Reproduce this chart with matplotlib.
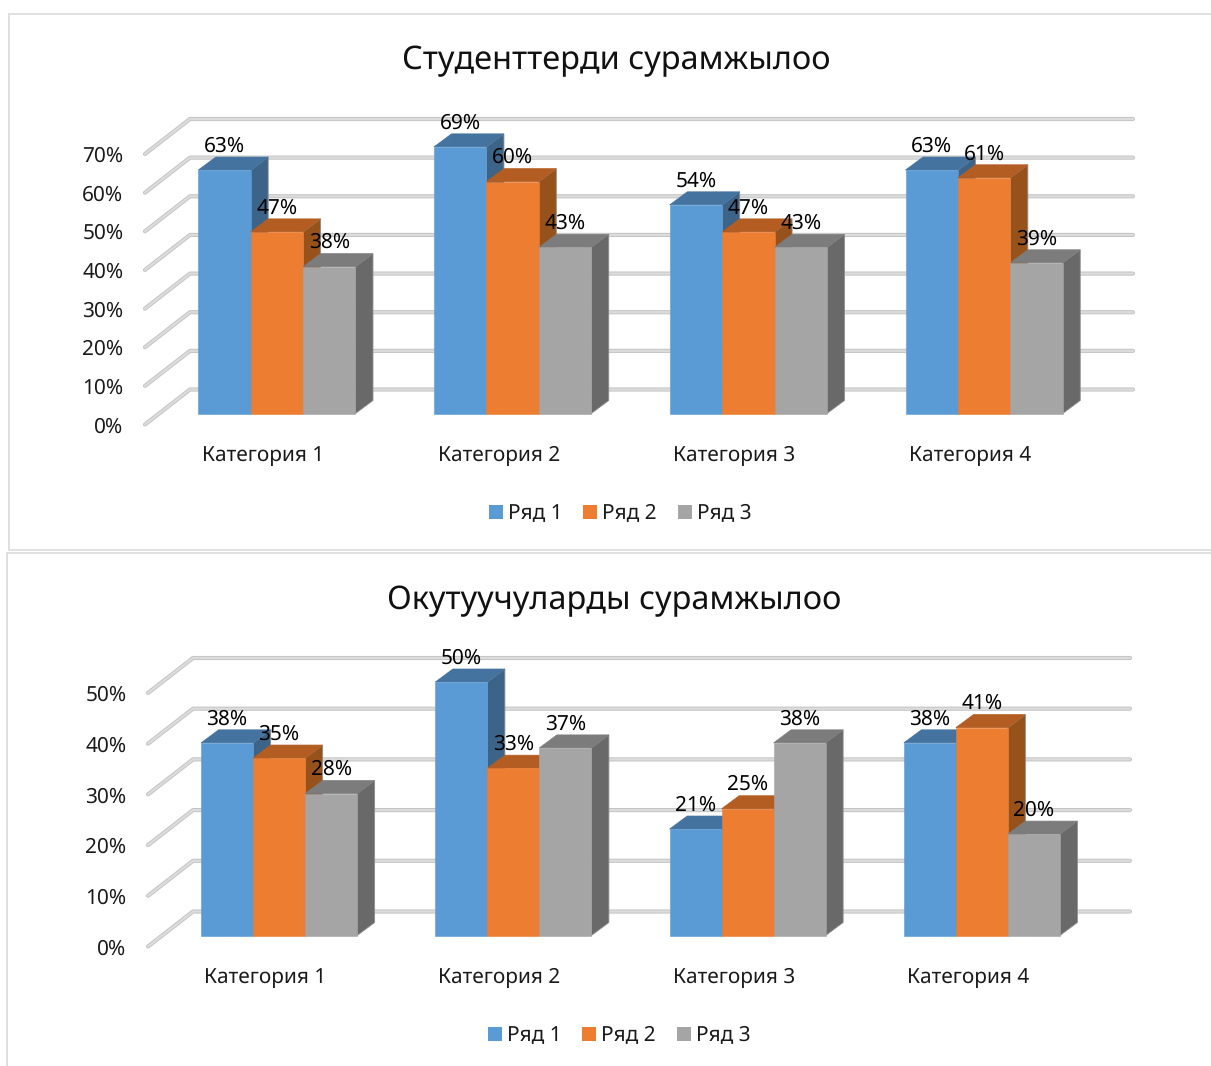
import matplotlib
matplotlib.use("Agg")
import matplotlib.pyplot as plt
from matplotlib.lines import Line2D
from matplotlib.patches import Patch, Polygon

plt.rcParams['font.family'] = ['Noto Sans', 'DejaVu Sans']
plt.rcParams['text.hinting'] = 'no_hinting'

W, H = 1211, 1066

categories = ['Категория 1', 'Категория 2', 'Категория 3', 'Категория 4']
series_names = ['Ряд 1', 'Ряд 2', 'Ряд 3']

title_students = 'Студенттерди сурамжылоо'
students_row1 = [63, 69, 54, 63]
students_row2 = [47, 60, 47, 61]
students_row3 = [38, 43, 43, 39]
students_ticks = [0, 10, 20, 30, 40, 50, 60, 70]

title_teachers = 'Окутуучуларды сурамжылоо'
teachers_row1 = [38, 50, 21, 38]
teachers_row2 = [35, 33, 25, 41]
teachers_row3 = [28, 37, 38, 20]
teachers_ticks = [0, 10, 20, 30, 40, 50]

FRONT = ['#5B9BD5', '#ED7D31', '#A5A5A5']
TOP = ['#44739F', '#B35D22', '#7C7C7C']
SIDE = ['#3B6488', '#97521C', '#696969']

# oblique projection, pixels
WALL_X, WALL_Y = 45, 35
BAR_F_X, BAR_F_Y = 14, 11.0
BAR_B_X, BAR_B_Y = 31.5, 24.0
FS = 15

fig = plt.figure(figsize=(W / 100, H / 100), dpi=100)
fig.patch.set_facecolor('white')


def fline(xs, ys):
    fig.add_artist(Line2D([x / W for x in xs], [1 - y / H for y in ys],
                          color='#E0E0E0', lw=1.4, transform=fig.transFigure))


fline([9, 9, W], [14, 550, 550])
fline([9, W], [14, 14])
fline([7, 7], [H, 553])
fline([7, W], [553, 553])


def panel(left, right, top, bottom, title, title_xy, rows, ticks, legend_xy, bar_px):
    ax = fig.add_axes([left / W, 1 - bottom / H, (right - left) / W, (bottom - top) / H])
    ax.set_xlim(-0.5, len(categories) - 0.5)
    ax.set_ylim(ticks[0], ticks[-1])
    ax.patch.set_alpha(0)
    for s in ax.spines.values():
        s.set_visible(False)
    px_x = (right - left) / len(categories)
    px_y = (bottom - top) / (ticks[-1] - ticks[0])
    ux = lambda p: p / px_x
    uy = lambda p: p / px_y

    # walls and gridlines
    for t in ticks:
        ax.plot([-0.5, -0.5 + ux(WALL_X), len(categories) - 0.5 + ux(WALL_X)],
                [t, t + uy(WALL_Y), t + uy(WALL_Y)],
                color='#C4C4C4', lw=3.0, clip_on=False, zorder=1, solid_capstyle='round')
        ax.plot([-0.5, -0.5 + ux(WALL_X), len(categories) - 0.5 + ux(WALL_X)],
                [t, t + uy(WALL_Y), t + uy(WALL_Y)],
                color='#DCDCDC', lw=1.6, clip_on=False, zorder=1.1, solid_capstyle='round')

    w = ux(bar_px)
    fx, fy = ux(BAR_F_X), uy(BAR_F_Y)
    bx, by = ux(BAR_B_X), uy(BAR_B_Y)
    z = 2
    for c in range(len(categories)):
        for s, vals in enumerate(rows):
            v = vals[c]
            x0 = c + fx + (s - 1.5) * w
            x1 = x0 + w
            side = [(x1, fy), (x1 - fx + bx, by), (x1 - fx + bx, v + by), (x1, v + fy)]
            topf = [(x0, v + fy), (x0 - fx + bx, v + by), (x1 - fx + bx, v + by), (x1, v + fy)]
            ax.add_patch(Polygon(side, closed=True, fc=SIDE[s], ec='#8C8C8C', lw=0.6,
                                 clip_on=False, zorder=z))
            ax.add_patch(Polygon(topf, closed=True, fc=TOP[s], ec=TOP[s], lw=0.5,
                                 clip_on=False, zorder=z))
            ax.bar(x0, v, width=w, bottom=fy, align='edge', color=FRONT[s],
                   edgecolor=FRONT[s], lw=0.4, clip_on=False, zorder=z + 0.5)
            ax.annotate(f'{v}%', (x0 + w / 2, v + fy), xytext=(0, 17.2),
                        textcoords='offset points', ha='center', va='center',
                        fontsize=FS, color='black', zorder=50, annotation_clip=False)
            z += 1

    ax.set_xticks(range(len(categories)))
    ax.set_xticklabels(categories, fontsize=FS)
    ax.set_yticks(ticks)
    ax.set_yticklabels([f'{t}%' for t in ticks], fontsize=FS)
    ax.tick_params(axis='x', length=0, pad=15, colors='#1a1a1a')
    ax.tick_params(axis='y', length=0, pad=15.5, colors='#1a1a1a')

    fig.text(title_xy[0] / W, 1 - title_xy[1] / H, title, fontsize=23.4,
             ha='center', va='center', color='#111111')

    handles = [Patch(facecolor=FRONT[i], edgecolor='none', label=series_names[i]) for i in range(3)]
    fig.legend(handles=handles, loc='center', ncol=3, frameon=False, fontsize=FS,
               bbox_to_anchor=(legend_xy[0] / W, 1 - legend_xy[1] / H),
               handlelength=0.67, handleheight=0.67, handletextpad=0.24,
               columnspacing=1.0, borderpad=0, labelcolor='#1a1a1a')


panel(145, 1088, 154, 424.5, title_students, (616, 61),
      [students_row1, students_row2, students_row3], students_ticks, (620, 513.5), 52.4)
panel(148, 1085, 693, 946.5, title_teachers, (614, 601),
      [teachers_row1, teachers_row2, teachers_row3], teachers_ticks, (619, 1035.5), 52.0)

fig.savefig('out.png', dpi=100, facecolor='white')
